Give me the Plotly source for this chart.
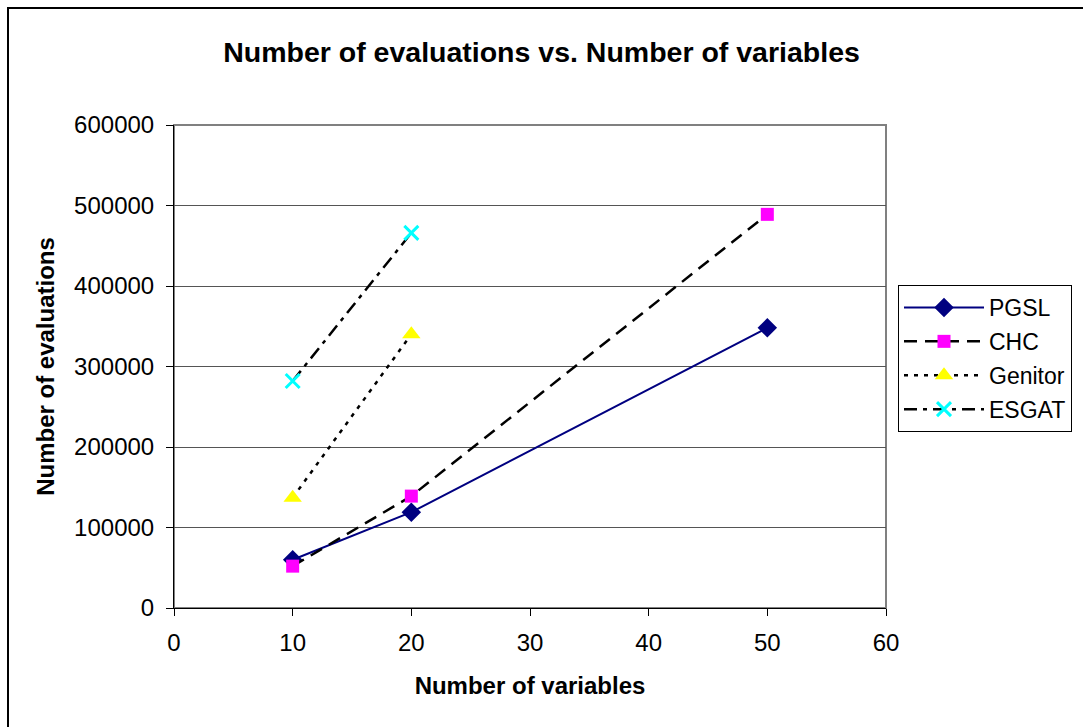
import plotly.graph_objects as go

x_pgsl = [10, 20, 50]
y_pgsl = [60000, 119000, 348000]
x_chc = [10, 20, 50]
y_chc = [52000, 139000, 489000]
x_genitor = [10, 20]
y_genitor = [137000, 340000]
x_esgat = [10, 20]
y_esgat = [282000, 466000]

FONT = "Liberation Sans, Arial, sans-serif"

fig = go.Figure()
fig.add_trace(go.Scatter(x=x_pgsl, y=y_pgsl, name="PGSL", mode="lines+markers", legendgroup="a",
                         line=dict(color="#000080", width=2),
                         marker=dict(symbol="diamond", size=15, color="#000080")))
fig.add_trace(go.Scatter(x=x_chc, y=y_chc, name="CHC", mode="lines+markers", legendgroup="b",
                         line=dict(color="black", width=2.5, dash="13px,8px"),
                         marker=dict(symbol="square", size=13, color="#FF00FF")))
fig.add_trace(go.Scatter(x=x_genitor, y=y_genitor, name="Genitor", mode="lines+markers", legendgroup="c",
                         line=dict(color="black", width=2.5, dash="4px,6px"),
                         marker=dict(symbol="triangle-up", size=16, color="#FFFF00")))
fig.add_trace(go.Scatter(x=x_esgat, y=y_esgat, name="ESGAT", mode="lines+markers", legendgroup="d",
                         line=dict(color="black", width=2.5, dash="13px,6px,4px,6px"),
                         marker=dict(symbol="x-thin", size=14, color="#00FFFF",
                                     line=dict(color="#00FFFF", width=3))))

W, H = 1083, 727
L, R, T, B = 174, 197, 125, 119
pw, ph = W - L - R, H - T - B

def px(xp):
    return (xp - L) / pw

def py(yp):
    return (H - B - yp) / ph

fig.update_layout(
    width=W, height=H,
    margin=dict(l=L, r=R, t=T, b=B, autoexpand=False),
    paper_bgcolor="white", plot_bgcolor="white",
    font=dict(family=FONT, size=24, color="black"),
    title=dict(text="<b>Number of evaluations vs. Number of variables</b>",
               x=0.5, xanchor="center", y=1 - 52 / H, yanchor="middle",
               font=dict(size=28.5, family=FONT)),
    xaxis=dict(range=[0, 60], dtick=10, tick0=0, showgrid=False, zeroline=False,
               showline=True, linecolor="black", linewidth=1,
               ticks="outside", ticklen=7, tickcolor="black",
               tickfont=dict(size=24), ticklabelstandoff=6,
               title=dict(text="<b>Number of variables</b>", font=dict(size=24), standoff=22)),
    yaxis=dict(range=[0, 600000], dtick=100000, tick0=0, showgrid=True,
               gridcolor="#555555", gridwidth=1, zeroline=False,
               showline=True, linecolor="black", linewidth=1,
               ticks="outside", ticklen=7, tickcolor="black",
               tickfont=dict(size=24), tickformat="d", ticklabelstandoff=7,
               title=dict(text="<b>Number of evaluations</b>", font=dict(size=24), standoff=12)),
    legend=dict(x=px(898), y=py(285), xanchor="left", yanchor="top",
                bgcolor="white", bordercolor="black", borderwidth=1,
                font=dict(size=23), itemwidth=80, tracegroupgap=1),
    shapes=[
        dict(type="rect", xref="paper", yref="paper",
             x0=0, x1=1, y0=0, y1=1, line=dict(color="#808080", width=2), layer="below"),
        dict(type="rect", xref="paper", yref="paper",
             x0=px(8), x1=px(1095), y0=py(745), y1=py(8),
             line=dict(color="black", width=2), layer="below"),
    ],
)

fig.write_html("out.html")
